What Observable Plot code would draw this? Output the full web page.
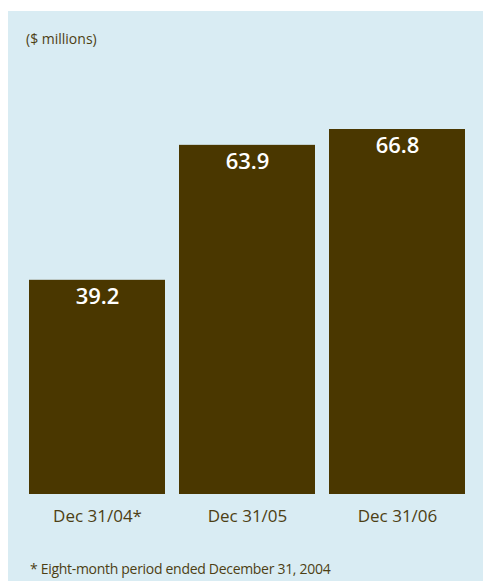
<!DOCTYPE html>
<html><head><meta charset="utf-8">
<script src="https://cdn.jsdelivr.net/npm/d3@7"></script>
<script src="https://cdn.jsdelivr.net/npm/@observablehq/plot@0.6"></script>
<style>
html,body{margin:0;padding:0;background:#fff;width:483px;height:581px;overflow:hidden;font-family:"Open Sans",sans-serif;}
#panel{position:absolute;left:8px;top:11px;width:475px;height:570px;background:#d9ecf3;}
#title{position:absolute;left:18px;top:18px;line-height:20px;font-size:14px;color:#4d3f14;}
#note{position:absolute;left:22px;top:548px;line-height:20px;font-size:14px;color:#4d3f14;letter-spacing:-0.3px;}
#chart{position:absolute;left:0;top:0;}
</style></head>
<body>
<div id="panel">
  <div id="chart"></div>
  <div id="title">($ millions)</div>
  <div id="note">* Eight-month period ended December 31, 2004</div>
</div>
<script>
const categories = ["Dec 31/04*", "Dec 31/05", "Dec 31/06"];
const values = [39.2, 63.9, 66.8];
const data = categories.map((c, i) => ({cat: c, value: values[i]}));

const chart = Plot.plot({
  width: 475, height: 540,
  marginLeft: 21, marginRight: 18, marginTop: 118, marginBottom: 57,
  style: {background: "transparent", color: "#4d3f14", fontFamily: "Open Sans"},
  x: {domain: categories, paddingInner: 14/150, paddingOuter: 0, label: null},
  y: {domain: [0, 66.8], axis: null},
  marks: [
    Plot.barY(data, {x: "cat", y: "value", fill: "#4a3700"}),
    Plot.text(data, {x: "cat", y: "value", text: d => d.value.toFixed(1), lineAnchor: "top", dy: 8, fill: "white", fontSize: 22, fontWeight: 600, style: "letter-spacing:-1px"}),
    Plot.axisX({tickSize: 0, tickPadding: 15, fontSize: 17, label: null, color: "#4d3f14", style: "letter-spacing:-0.2px"})
  ]
});
document.getElementById("chart").appendChild(chart);
</script>
</body></html>
